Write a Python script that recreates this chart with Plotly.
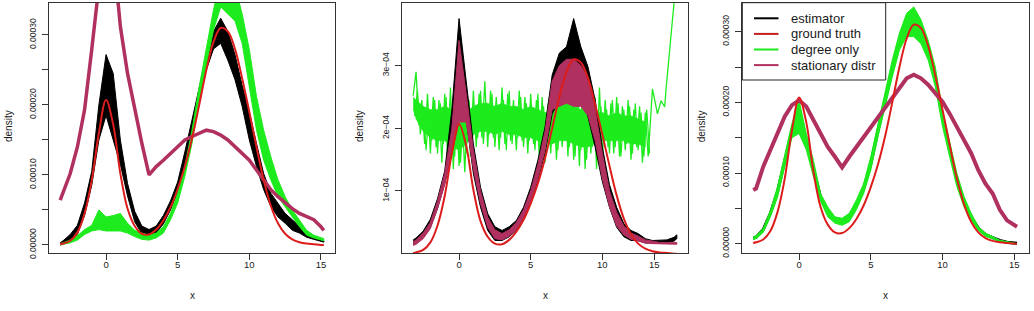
import plotly.graph_objects as go

SCALE = 1e-4  # all density values below are in units of 1e-4

# common x grid
X = [-3.2, -3.0, -2.5, -2.0, -1.5, -1.0, -0.5, 0.0, 0.5, 1.0, 1.5, 2.0, 2.5, 3.0, 3.5,
     4.0, 4.5, 5.0, 5.5, 6.0, 6.5, 7.0, 7.5, 8.0, 8.5, 9.0, 9.5, 10.0, 10.5, 11.0,
     11.5, 12.0, 12.5, 13.0, 13.5, 14.0, 14.5, 15.0, 15.2]

TRUTH = [0.01, 0.02, 0.06, 0.18, 0.45, 0.92, 1.6, 2.07, 1.72, 1.02, 0.52, 0.27, 0.16, 0.15, 0.22,
         0.35, 0.54, 0.80, 1.12, 1.52, 2.0, 2.5, 2.9, 3.1, 3.05, 2.8, 2.38, 1.9, 1.4, 0.93,
         0.56, 0.31, 0.16, 0.08, 0.04, 0.02, 0.01, 0.0, 0.0]

# ---- panel 1 ----
P1_EST_HI = [0.03, 0.06, 0.15, 0.28, 0.6, 1.05, 2.0, 2.72, 2.45, 1.5, 0.88, 0.48, 0.27, 0.22, 0.27,
             0.42, 0.63, 0.9, 1.33, 1.78, 2.25, 2.7, 3.05, 3.24, 3.05, 2.72, 2.28, 1.9, 1.45, 1.02,
             0.74, 0.6, 0.45, 0.36, 0.26, 0.17, 0.12, 0.08, 0.06]
P1_EST_LO = [0.0, 0.01, 0.06, 0.15, 0.42, 0.85, 1.5, 1.85, 1.5, 1.15, 0.7, 0.33, 0.16, 0.13, 0.17,
             0.3, 0.5, 0.76, 1.18, 1.6, 2.08, 2.5, 2.8, 2.88, 2.64, 2.36, 1.98, 1.5, 1.12, 0.79,
             0.55, 0.4, 0.31, 0.21, 0.17, 0.11, 0.08, 0.05, 0.04]
P1_DEG_HI = [0.02, 0.03, 0.07, 0.13, 0.22, 0.28, 0.5, 0.4, 0.42, 0.45, 0.31, 0.21, 0.17, 0.14, 0.17,
             0.26, 0.45, 0.74, 1.12, 1.64, 2.26, 2.83, 3.36, 3.8, 3.9, 3.7, 3.3, 2.79, 2.12, 1.64,
             1.26, 0.93, 0.69, 0.5, 0.36, 0.21, 0.14, 0.1, 0.09]
P1_DEG_LO = [0.0, 0.01, 0.03, 0.07, 0.15, 0.2, 0.22, 0.2, 0.2, 0.2, 0.17, 0.12, 0.08, 0.07, 0.1,
             0.17, 0.36, 0.6, 0.98, 1.45, 2.07, 2.55, 3.07, 3.4, 3.3, 3.2, 2.88, 2.26, 1.64, 1.21,
             0.93, 0.69, 0.55, 0.4, 0.26, 0.14, 0.1, 0.07, 0.06]
P1_STAT = [0.64, 0.75, 1.02, 1.4, 1.93, 2.79, 4.0, 4.6, 4.2, 3.12, 2.45, 1.93, 1.45, 1.0, 1.12,
           1.21, 1.31, 1.4, 1.5, 1.55, 1.6, 1.64, 1.62, 1.57, 1.5, 1.4, 1.31, 1.21, 1.07, 0.93,
           0.79, 0.69, 0.6, 0.52, 0.45, 0.4, 0.36, 0.26, 0.21]

# ---- panel 2 ----
P2_EST_HI = [0.22, 0.25, 0.36, 0.55, 0.88, 1.32, 2.3, 3.75, 2.75, 1.75, 1.06, 0.64, 0.43, 0.37, 0.43,
             0.53, 0.74, 1.06, 1.49, 2.02, 2.85, 3.2, 3.3, 3.75, 3.3, 2.98, 2.45, 1.7, 1.1, 0.74,
             0.48, 0.37, 0.32, 0.24, 0.21, 0.21, 0.22, 0.26, 0.3]
P2_EST_LO = [0.15, 0.17, 0.26, 0.42, 0.72, 1.12, 1.6, 2.2, 2.15, 1.28, 0.74, 0.37, 0.21, 0.21, 0.27,
             0.37, 0.53, 0.8, 1.17, 1.6, 2.23, 2.45, 2.55, 2.71, 2.55, 2.18, 1.7, 1.15, 0.74, 0.42,
             0.27, 0.21, 0.21, 0.17, 0.16, 0.17, 0.17, 0.2, 0.24]
P2_STAT_HI = [0.19, 0.22, 0.33, 0.5, 0.84, 1.28, 2.0, 3.4, 2.55, 1.65, 1.0, 0.58, 0.38, 0.32, 0.38,
              0.5, 0.7, 1.0, 1.42, 1.95, 2.75, 3.0, 3.1, 3.1, 3.0, 2.8, 2.3, 1.6, 1.0, 0.66,
              0.44, 0.33, 0.28, 0.22, 0.2, 0.18, 0.18, 0.18, 0.18]
P2_STAT_LO = [0.13, 0.15, 0.24, 0.4, 0.72, 1.1, 1.6, 2.1, 2.1, 1.35, 0.8, 0.42, 0.24, 0.22, 0.28,
              0.38, 0.56, 0.82, 1.2, 1.65, 2.3, 2.35, 2.4, 2.35, 2.35, 2.2, 1.8, 1.2, 0.75, 0.44,
              0.3, 0.23, 0.2, 0.17, 0.16, 0.15, 0.15, 0.15, 0.15]
# degree-only: very noisy. Trace A sampled every 0.2 from -3.2 (then a sparse tail),
# trace B sampled every 0.2 from -3.1
P2_DEG_A = [2.52, 2.90, 2.05, 2.45, 1.75, 2.55, 1.60, 2.50, 1.70, 2.45, 1.45, 2.55, 1.55, 2.65, 1.35,
            2.45, 1.40, 2.35, 1.30, 2.40, 1.55, 2.60, 1.70, 2.55, 1.85, 2.75, 1.70, 2.60, 1.85, 2.50,
            1.65, 2.65, 1.75, 2.55, 1.80, 2.45, 1.65, 2.60, 1.80, 2.50, 1.60, 2.55, 1.75, 2.45, 1.55,
            2.50, 1.45, 2.40, 1.60, 2.45, 1.50, 2.55, 1.70, 2.65, 1.55, 2.60, 1.50, 2.50, 1.40, 2.55,
            1.35, 2.60, 1.60, 2.40, 1.35, 2.65, 1.50, 2.45, 1.70, 2.40, 1.60, 2.50, 1.55, 2.35, 1.65,
            2.45, 1.50, 2.30, 1.70, 2.35, 1.45, 2.25, 1.55, 2.20]
P2_DEG_B = [2.20, 2.60, 1.90, 2.35, 1.65, 2.30, 1.80, 2.45, 1.60, 2.40,
            1.75, 2.50, 1.50, 2.30, 1.55, 2.55, 1.45, 2.20, 1.60, 2.45,
            1.70, 2.35, 1.85, 2.60, 1.75, 2.40, 1.90, 2.55, 1.70, 2.35,
            1.85, 2.45, 1.65, 2.60, 1.75, 2.35, 1.85, 2.50, 1.70, 2.40,
            1.80, 2.30, 1.65, 2.55, 1.70, 2.35, 1.60, 2.50, 1.75, 2.30,
            1.65, 2.45, 1.80, 2.55, 1.70, 2.40, 1.55, 2.60, 1.65, 2.35,
            1.50, 2.45, 1.70, 2.50, 1.55, 2.35, 1.75, 2.30, 1.60, 2.45,
            1.70, 2.40, 1.55, 2.30, 1.75, 2.35, 1.60, 2.40, 1.65, 2.25,
            1.55, 2.30, 1.60]
P2_DEG_TAIL_X = [13.5, 13.85, 14.1, 14.35, 14.45, 15.0, 15.1]
P2_DEG_TAIL = [2.63, 2.23, 2.44, 2.34, 2.63, 3.99, 4.3]
# dense core of the degree-only band (on X[:34], i.e. -3.2 .. 13.0)
P2_DEG_CORE_HI = [2.5, 2.45, 2.35, 2.3, 2.3, 2.35, 2.3, 2.2, 2.25, 2.35, 2.4, 2.4, 2.35, 2.4, 2.35,
                  2.35, 2.3, 2.35, 2.3, 2.25, 2.3, 2.35, 2.4, 2.35, 2.3, 2.3, 2.25, 2.25, 2.2, 2.25,
                  2.2, 2.2, 2.15, 2.1]
P2_DEG_CORE_LO = [2.3, 2.15, 1.95, 1.85, 1.8, 1.8, 1.7, 1.65, 1.75, 1.9, 1.95, 1.95, 1.9, 1.95, 1.9,
                  1.9, 1.85, 1.85, 1.8, 1.75, 1.75, 1.8, 1.8, 1.75, 1.7, 1.7, 1.75, 1.8, 1.8, 1.8,
                  1.8, 1.75, 1.75, 1.7]

# ---- panel 3 ----
P3_EST = [0.08, 0.09, 0.2, 0.43, 0.74, 1.18, 1.6, 1.82, 1.45, 1.06, 0.66, 0.45, 0.33, 0.31, 0.37,
          0.55, 0.78, 1.13, 1.6, 2.03, 2.48, 2.86, 3.1, 3.14, 3.0, 2.74, 2.36, 1.78, 1.32, 0.9,
          0.6, 0.38, 0.22, 0.13, 0.085, 0.045, 0.02, 0.01, 0.005]
P3_DEG_HI = [0.1, 0.11, 0.22, 0.47, 0.81, 1.28, 1.7, 2.03, 1.56, 1.18, 0.71, 0.52, 0.38, 0.36, 0.43,
             0.62, 0.85, 1.23, 1.7, 2.13, 2.6, 2.98, 3.26, 3.35, 3.17, 2.88, 2.5, 1.89, 1.42, 1.0,
             0.67, 0.43, 0.24, 0.15, 0.1, 0.05, 0.03, 0.01, 0.01]
P3_DEG_LO = [0.06, 0.07, 0.16, 0.38, 0.66, 1.09, 1.5, 1.56, 1.33, 0.95, 0.6, 0.38, 0.29, 0.26, 0.31,
             0.48, 0.71, 1.04, 1.51, 1.94, 2.36, 2.74, 2.93, 2.93, 2.83, 2.6, 2.22, 1.66, 1.23, 0.81,
             0.52, 0.33, 0.19, 0.1, 0.07, 0.03, 0.01, 0.0, 0.0]
P3_STAT = [0.76, 0.78, 1.09, 1.33, 1.56, 1.8, 1.96, 2.03, 1.94, 1.75, 1.56, 1.37, 1.23, 1.08, 1.23,
           1.37, 1.51, 1.66, 1.8, 1.94, 2.08, 2.22, 2.34, 2.39, 2.34, 2.25, 2.13, 2.01, 1.84, 1.66,
           1.47, 1.28, 1.04, 0.85, 0.71, 0.48, 0.33, 0.26, 0.24]

LEGEND_NAMES = ["estimator", "ground truth", "degree only", "stationary distr"]

BLACK = "#000000"
RED = "#DD1C1C"
GREEN = "#1DEB1D"
MAROON = "#B03060"
LEGEND_COLORS = [BLACK, "#C41E1E", GREEN, MAROON]

W, H = 1034, 311
FONT = "Liberation Sans, Arial, sans-serif"

fig = go.Figure()


def sc(vals):
    return [v * SCALE for v in vals]


def band(xs, hi, lo, color, ax, width=1):
    fig.add_trace(go.Scatter(
        x=xs + xs[::-1], y=sc(hi + lo[::-1]), mode="lines", fill="toself",
        fillcolor=color, line=dict(color=color, width=width),
        xaxis="x" + ax, yaxis="y" + ax, showlegend=False, hoverinfo="skip"))


def line(xs, ys, color, width, ax, shape="linear"):
    fig.add_trace(go.Scatter(
        x=xs, y=sc(ys), mode="lines", line=dict(color=color, width=width, shape=shape),
        xaxis="x" + ax, yaxis="y" + ax, showlegend=False, hoverinfo="skip"))


# panel 1
band(X, P1_EST_HI, P1_EST_LO, BLACK, "")
band(X, P1_DEG_HI, P1_DEG_LO, GREEN, "")
line(X, P1_STAT, MAROON, 3.5, "")
line(X, TRUTH, RED, 2, "", "spline")

# panel 2
xa = [round(-3.2 + 0.2 * i, 2) for i in range(len(P2_DEG_A))] + P2_DEG_TAIL_X
xb = [round(-3.1 + 0.2 * i, 2) for i in range(len(P2_DEG_B))]
band(X[:len(P2_DEG_CORE_HI)], P2_DEG_CORE_HI, P2_DEG_CORE_LO, GREEN, "2", 0.5)
line(xb, P2_DEG_B, GREEN, 1.2, "2")
line(xa, P2_DEG_A + P2_DEG_TAIL, GREEN, 1.3, "2")
band(X, P2_EST_HI, P2_EST_LO, BLACK, "2")
band(X, P2_STAT_HI, P2_STAT_LO, MAROON, "2")
line(X, TRUTH, RED, 2, "2", "spline")

# panel 3
line(X, P3_EST, BLACK, 3, "3")
band(X, P3_DEG_HI, P3_DEG_LO, GREEN, "3")
line(X, P3_STAT, MAROON, 4, "3")
line(X, TRUTH, RED, 2, "3", "spline")

AX = "#333333"
TXT = "#1a1a1a"


def px_x(p):
    return p / W


def px_y(p):
    return 1 - p / H


ydom = [px_y(253.3), px_y(2.7)]
xdoms = [[px_x(49.3), px_x(335.3)], [px_x(402.3), px_x(688.3)], [px_x(742.3), px_x(1028.5)]]

xcommon = dict(range=[-3.96, 16.0], showline=True, mirror=True, linecolor=AX, linewidth=1,
               ticks="outside", ticklen=6, tickcolor=AX, tickwidth=1, showgrid=False,
               zeroline=False, tickfont=dict(size=9.5, color=TXT, family=FONT),
               ticklabelstandoff=-4, automargin=False)
ycommon = dict(showline=True, mirror=True, linecolor=AX, linewidth=1,
               ticks="outside", ticklen=6, tickcolor=AX, tickwidth=1, showgrid=False,
               zeroline=False, tickfont=dict(size=8.5, color=TXT, family=FONT),
               tickangle=-90, ticklabelstandoff=3, automargin=False, domain=ydom)

Y_TICKS_A = [0, 0.5, 1, 1.5, 2, 2.5, 3]
Y_TEXT_A = ["0.00000", "", "0.00010", "", "0.00020", "", "0.00030"]
Y_TICKS_B = [1, 2, 3]
Y_TEXT_B = ["1e\u221204", "2e\u221204", "3e\u221204"]
X_TICKS = [0, 5, 10, 15]
X_TICKS_P2 = [0, 5, 10, 13.63]
X_TEXT = ["0", "5", "10", "15"]

fig.update_layout(
    width=W, height=H, margin=dict(l=0, r=0, t=0, b=0),
    paper_bgcolor="white", plot_bgcolor="white",
    font=dict(family=FONT, color=TXT),
    showlegend=False,
    xaxis=dict(domain=xdoms[0], anchor="y", tickvals=X_TICKS, ticktext=X_TEXT, **xcommon),
    xaxis2=dict(domain=xdoms[1], anchor="y2", tickvals=X_TICKS_P2, ticktext=X_TEXT, **xcommon),
    xaxis3=dict(domain=xdoms[2], anchor="y3", tickvals=X_TICKS, ticktext=X_TEXT, **xcommon),
    yaxis=dict(anchor="x", range=[-0.119e-4, 3.461e-4], tickvals=sc(Y_TICKS_A),
               ticktext=Y_TEXT_A, **ycommon),
    yaxis2=dict(anchor="x2", range=[0.006e-4, 4.003e-4], tickvals=sc(Y_TICKS_B),
                ticktext=Y_TEXT_B, **ycommon),
    yaxis3=dict(anchor="x3", range=[-0.136e-4, 3.41e-4], tickvals=sc(Y_TICKS_A),
                ticktext=Y_TEXT_A, **ycommon),
)

annots = []
shapes = []
for cx, cy in [(9, 126), (360, 126), (702.3, 126)]:
    annots.append(dict(x=px_x(cx), y=px_y(cy), xref="paper", yref="paper", text="density",
                       textangle=-90, showarrow=False, xanchor="center", yanchor="middle",
                       font=dict(size=10, color=TXT, family=FONT)))
for cx in [192.3, 545.3, 885.4]:
    annots.append(dict(x=px_x(cx), y=px_y(295), xref="paper", yref="paper", text="x",
                       showarrow=False, xanchor="center", yanchor="middle",
                       font=dict(size=10, color=TXT, family=FONT)))

# legend box (top-left of panel 3)
shapes.append(dict(type="rect", xref="paper", yref="paper",
                   x0=px_x(742.3), x1=px_x(885.7), y0=px_y(80), y1=px_y(2.7),
                   line=dict(color="#222222", width=1), fillcolor="white", layer="above"))
for i, (name, col) in enumerate(zip(LEGEND_NAMES, LEGEND_COLORS)):
    yy = 18.3 + i * 15.6
    shapes.append(dict(type="line", xref="paper", yref="paper",
                       x0=px_x(754), x1=px_x(778.5), y0=px_y(yy), y1=px_y(yy),
                       line=dict(color=col, width=2), layer="above"))
    annots.append(dict(x=px_x(789), y=px_y(yy), xref="paper", yref="paper", text=name,
                       showarrow=False, xanchor="left", yanchor="middle",
                       font=dict(size=13, color=TXT, family=FONT)))

fig.update_layout(annotations=annots, shapes=shapes)

fig.write_html("out.html", config={"displayModeBar": False},
               post_script="document.body.style.margin='0px';")
